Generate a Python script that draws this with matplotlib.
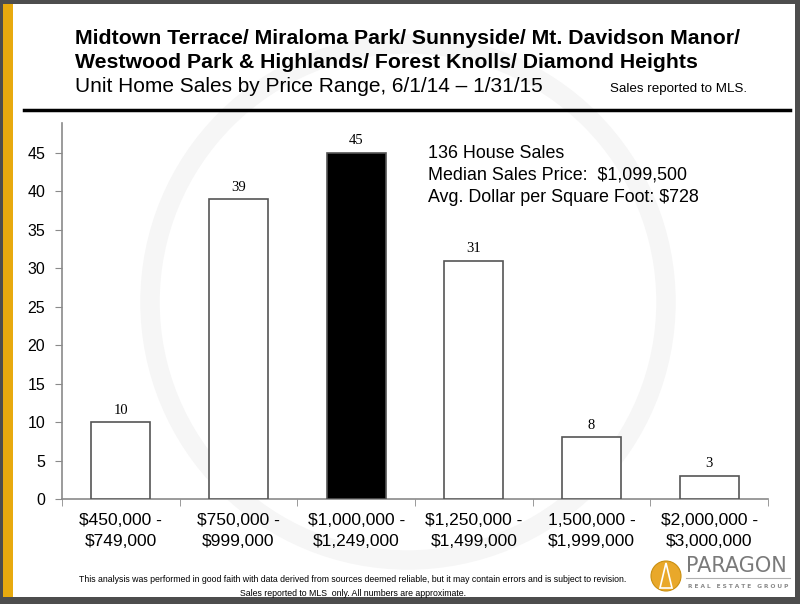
"""Unit home sales by price range, Midtown Terrace & neighbours, 6/1/14 - 1/31/15."""
import matplotlib
matplotlib.use("Agg")
import matplotlib.pyplot as plt
from matplotlib.patches import Rectangle, Circle, Polygon

W, H = 800, 604

# data
RANGES = [
    "$450,000 -\n$749,000",
    "$750,000 -\n$999,000",
    "$1,000,000 -\n$1,249,000",
    "$1,250,000 -\n$1,499,000",
    "1,500,000 -\n$1,999,000",
    "$2,000,000 -\n$3,000,000",
]
SALES = [10, 39, 45, 31, 8, 3]
HIGHLIGHT = 2  # median bucket, drawn black
Y_TICKS = [0, 5, 10, 15, 20, 25, 30, 35, 40, 45]

TITLE_1 = "Midtown Terrace/ Miraloma Park/ Sunnyside/ Mt. Davidson Manor/"
TITLE_2 = "Westwood Park & Highlands/ Forest Knolls/ Diamond Heights"
SUBTITLE = "Unit Home Sales by Price Range, 6/1/14 \u2013 1/31/15"
NOTE = "Sales reported to MLS."
STATS = [
    "136 House Sales",
    "Median Sales Price:  $1,099,500",
    "Avg. Dollar per Square Foot: $728",
]
DISCLAIMER = [
    "This analysis was performed in good faith with data derived from sources deemed reliable, "
    "but it may contain errors and is subject to revision.",
    "Sales reported to MLS  only. All numbers are approximate.",
]

GOLD = "#E8AA0E"
AXIS = "#8a8a8a"
SANS = "Liberation Sans"

fig = plt.figure(figsize=(W / 100, H / 100), dpi=100)

# background layer in pixel coords (origin top-left) for the slide furniture
bg = fig.add_axes([0, 0, 1, 1], zorder=-1)
bg.set_xlim(0, W)
bg.set_ylim(H, 0)
bg.axis("off")

bg.add_patch(Rectangle((0, 0), W, H, facecolor="#4d4d4d", edgecolor="none"))
bg.add_patch(Rectangle((3, 4), W - 8, H - 11, facecolor="white", edgecolor="none"))
bg.add_patch(Rectangle((3, 4), 10, H - 11, facecolor=GOLD, edgecolor="none"))

# faint watermark ring
bg.add_patch(Circle((408, 302), 258, facecolor="none", edgecolor="#f6f6f6", linewidth=14))

# header
bg.text(75, 38, TITLE_1, fontsize=15.3, fontweight="bold", family=SANS, va="center")
bg.text(75, 62, TITLE_2, fontsize=15.3, fontweight="bold", family=SANS, va="center")
bg.text(75, 87, SUBTITLE, fontsize=15, family=SANS, va="center")
bg.text(610, 89, NOTE, fontsize=9.6, family=SANS, va="center")
bg.plot([24, 790], [110, 110], color="black", linewidth=2.5)

# summary block
for i, line in enumerate(STATS):
    bg.text(428, 153 + i * 22, line, fontsize=12.9, family=SANS, va="center")

# footer
bg.text(353, 580, DISCLAIMER[0], fontsize=6.35, family=SANS, ha="center", va="center")
bg.text(353, 593, DISCLAIMER[1], fontsize=6.35, family=SANS, ha="center", va="center")

# logo
bg.add_patch(Circle((666, 576), 15, facecolor="#E9A82A", edgecolor="#c98f10", linewidth=0.8))
bg.add_patch(Polygon([(666, 563), (660, 588), (672, 588)], closed=True,
                     facecolor="none", edgecolor="white", linewidth=1.2))
bg.text(686, 566, "PARAGON", fontsize=15, color="#7a7a7a", family="DejaVu Sans", va="center")
bg.plot([686, 790], [578, 578], color="#b0b0b0", linewidth=0.8)
bg.text(688, 587, "R E A L   E S T A T E   G R O U P", fontsize=4.2, color="#8a8a8a",
        family="DejaVu Sans", fontweight="bold", va="center")

# chart
ax = fig.add_axes([62 / W, 1 - 499 / H, (768 - 62) / W, (499 - 123) / H])
ax.patch.set_alpha(0)

xs = list(range(len(SALES)))
colors = ["black" if i == HIGHLIGHT else "white" for i in xs]
ax.bar(xs, SALES, width=0.5, color=colors, edgecolor="#555555", linewidth=1.2, zorder=3)
for x, v in zip(xs, SALES):
    ax.annotate(str(v), (x, v), xytext=(0, 4), textcoords="offset points",
                ha="center", va="bottom", fontsize=10.5, family="Liberation Serif")

ax.set_xlim(-0.5, len(SALES) - 0.5)
ax.set_ylim(0, 48.9)
ax.set_yticks(Y_TICKS)
ax.set_xticks(xs, RANGES)
ax.set_xticks([i - 0.5 for i in range(len(SALES) + 1)], minor=True)

for side in ("top", "right"):
    ax.spines[side].set_visible(False)
for side in ("left", "bottom"):
    ax.spines[side].set_color(AXIS)
    ax.spines[side].set_linewidth(1.2)

ax.tick_params(axis="y", length=5, color=AXIS, pad=7, labelsize=11.5)
ax.tick_params(axis="x", which="major", length=0, pad=10, labelsize=12.5)
ax.tick_params(axis="x", which="minor", length=5, color=AXIS)
for lab in ax.get_xticklabels() + ax.get_yticklabels():
    lab.set_family(SANS)
for lab in ax.get_xticklabels():
    lab.set_linespacing(1.5)

fig.savefig("out.png", dpi=100)
